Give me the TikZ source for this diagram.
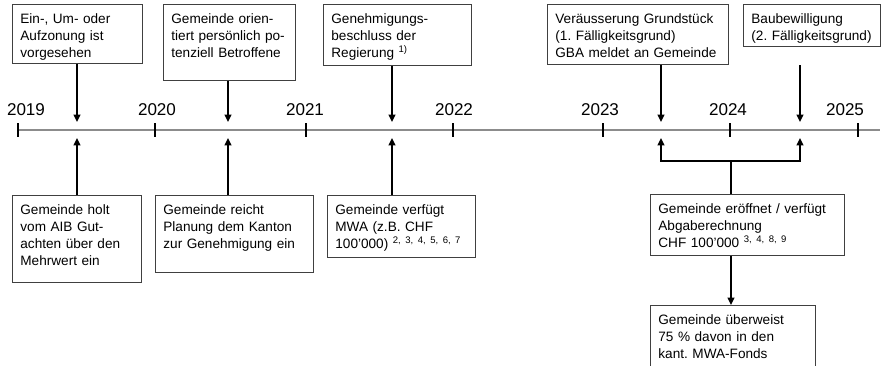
\documentclass[tikz,border=0pt]{standalone}
\usepackage{fontspec}
\setmainfont{Liberation Sans}
\usetikzlibrary{arrows.meta}
\frenchspacing

\begin{document}
\begin{tikzpicture}[x=0.75pt, y=-0.75pt, >={Triangle[length=5.5pt, width=5pt]},
    box/.style={draw=black!75, line width=0.6pt, anchor=north west, align=left,
        inner xsep=6pt, inner ysep=0pt, text height=14pt,
        font=\fontsize{10.2}{12.9}\selectfont},
    arr/.style={->, line width=1.6pt, shorten >=6pt},
    year/.style={anchor=base, font=\fontsize{12.8}{15}\selectfont}]
    % Frame
    \useasboundingbox (0,0) rectangle (884,365);
    \clip (0,0) rectangle (884,365);

    % Timeline
    \draw[gray!90, line width=1pt] (18,130) -- (880,130);
    \foreach \x in {18,155,306,453,603,730,858}
        \draw[line width=1.5pt] (\x,123) -- (\x,137);
    \node[year] (y2019) at (26,115) {2019};
    \node[year] (y2020) at (157,115) {2020};
    \node[year] (y2021) at (305,115) {2021};
    \node[year] (y2022) at (454,115) {2022};
    \node[year] (y2023) at (600,115) {2023};
    \node[year] (y2024) at (728,115) {2024};
    \node[year] (y2025) at (845,115) {2025};

    % Event positions on the timeline
    \coordinate (ev1) at (77,130);
    \coordinate (ev2) at (228,130);
    \coordinate (ev3) at (392,130);
    \coordinate (ev4) at (661,130);
    \coordinate (ev5) at (800,130);
    \coordinate (split) at (731,161);

    % Boxes above
    \node[box, text width=85.5pt, text depth=30.25pt] (t1) at (12,4)
        {Ein-, Um- oder\\Aufzonung ist\\vorgesehen};
    \node[box, text width=87pt, text depth=43pt] (t2) at (163,4)
        {Gemeinde orien-\\tiert persönlich po-\\tenziell Betroffene};
    \node[box, text width=99pt, text depth=31.75pt] (t3) at (323,4)
        {Genehmigungs-\\beschluss der\\Regierung \textsuperscript{1)}};
    \node[box, text width=123.75pt, text depth=31pt] (t4) at (547,4)
        {Veräusserung Grundstück\\(1. Fälligkeitsgrund)\\GBA meldet an Gemeinde};
    \node[box, text width=90.75pt, text depth=17.5pt] (t5) at (743,4)
        {Baubewilligung\\(2. Fälligkeitsgrund)};

    % Boxes below
    \node[box, text width=84.75pt, text depth=51.25pt] (b1) at (12,195)
        {Gemeinde holt\\vom AIB Gut-\\achten über den\\Mehrwert ein};
    \node[box, text width=106.5pt, text depth=43.75pt] (b2) at (155,195)
        {Gemeinde reicht\\Planung dem Kanton\\zur Genehmigung ein};
    \node[box, text width=99pt, text depth=32.5pt] (b3) at (327,195)
        {Gemeinde verfügt\\MWA (z.B. CHF\\100'000) \textsuperscript{2, 3, 4, 5, 6, 7}};
    \node[box, text width=133.5pt, text depth=31.75pt] (b4) at (650,194)
        {Gemeinde eröffnet / verfügt\\Abgaberechnung\\CHF 100'000 \textsuperscript{3, 4, 8, 9}};
    \node[box, text width=111.75pt, text depth=34.75pt] (b5) at (650,305)
        {Gemeinde überweist\\75 \% davon in den\\kant. MWA-Fonds};

    % Arrows onto the timeline
    \draw[arr] (t1.south -| ev1) -- (ev1);
    \draw[arr] (t2.south -| ev2) -- (ev2);
    \draw[arr] (t3.south -| ev3) -- (ev3);
    \draw[arr] (t4.south -| ev4) -- (ev4);
    \draw[arr, shorten <=14pt] (t5.south -| ev5) -- (ev5);
    \draw[arr] (b1.north -| ev1) -- (ev1);
    \draw[arr] (b2.north -| ev2) -- (ev2);
    \draw[arr] (b3.north -| ev3) -- (ev3);

    % Fork from the invoice box
    \draw[line width=1.6pt] (b4.north -| split) -- (split);
    \draw[arr] (split) -| (ev4);
    \draw[arr] (split) -| (ev5);
    \draw[arr, shorten >=0pt] (b4.south -| split) -- (b5.north -| split);
\end{tikzpicture}
\end{document}
